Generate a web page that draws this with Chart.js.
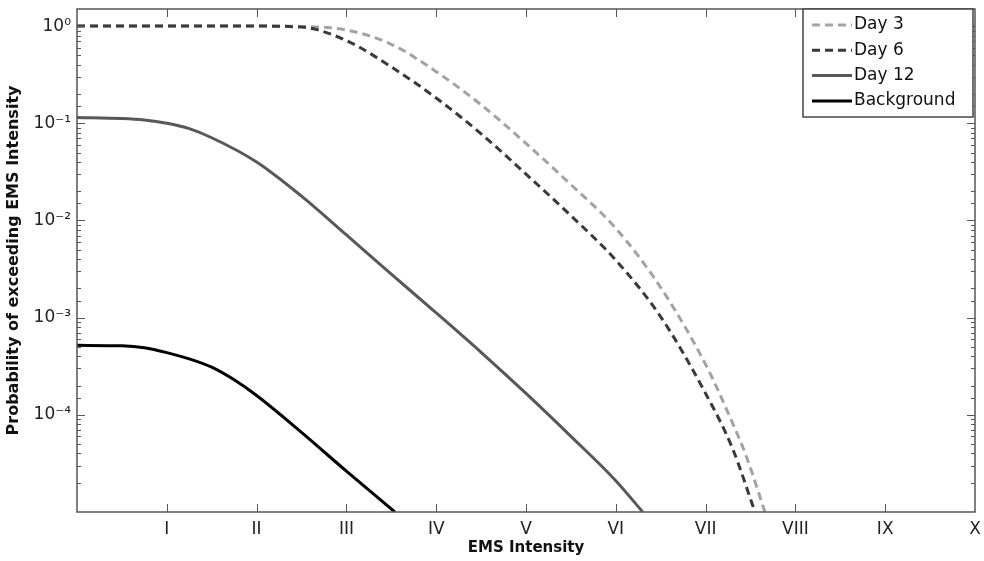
<!DOCTYPE html>
<html>
<head>
<meta charset="utf-8">
<script src="https://cdn.jsdelivr.net/npm/chart.js@4/dist/chart.umd.min.js"></script>
<style>
  html, body { margin: 0; padding: 0; background: #fff; }
  #wrap { width: 984px; height: 561px; }
</style>
</head>
<body>
<div id="wrap"><canvas id="emsChart" width="984" height="561"></canvas></div>
<script>
// EMS intensity ticks (0..10) and their roman labels
const romanLabels = ["", "I", "II", "III", "IV", "V", "VI", "VII", "VIII", "IX", "X"];

// probability of exceeding each intensity
const day3X = [0, 0.5, 1, 1.5, 2, 2.5, 3, 3.5, 4, 4.5, 5, 5.5, 6, 6.5, 7, 7.25, 7.46, 7.66];
const day3Y = [1, 1, 1, 1, 1, 0.993, 0.91, 0.65, 0.34, 0.155, 0.062, 0.0234, 0.0083, 0.00204, 3.3e-4, 1.05e-4, 3.6e-5, 1e-5];

const day6X = [0, 0.5, 1, 1.5, 2, 2.5, 3, 3.5, 4, 4.5, 5, 5.5, 6, 6.5, 7, 7.3, 7.55];
const day6Y = [1, 1, 1, 1, 1, 0.977, 0.71, 0.38, 0.182, 0.078, 0.030, 0.0112, 0.0039, 0.00102, 1.66e-4, 4.5e-5, 1e-5];

const day12X = [0, 0.5, 0.75, 1, 1.25, 1.5, 2, 2.5, 3, 3.5, 4, 4.5, 5, 5.5, 6, 6.3];
const day12Y = [0.115, 0.112, 0.108, 0.100, 0.088, 0.071, 0.040, 0.0178, 0.0071, 0.0028, 0.00112, 4.4e-4, 1.66e-4, 6.0e-5, 2.1e-5, 1e-5];

const bgX = [0, 0.5, 0.75, 1, 1.25, 1.5, 1.75, 2, 2.5, 3, 3.54];
const bgY = [5.19e-4, 5.13e-4, 4.9e-4, 4.37e-4, 3.76e-4, 3.09e-4, 2.29e-4, 1.58e-4, 6.6e-5, 2.63e-5, 1e-5];

const seriesNames = ["Day 3", "Day 6", "Day 12", "Background"];

function pts(xs, ys) {
  return xs.map((x, i) => ({ x: x, y: ys[i] }));
}

const supers = { "0": "\u2070", "1": "\u00b9", "2": "\u00b2", "3": "\u00b3", "4": "\u2074", "-": "\u207b" };
function isPow10(v) {
  const l = Math.log10(v);
  return Math.abs(l - Math.round(l)) < 1e-9;
}

const FONT = "'DejaVu Sans', 'Liberation Sans', sans-serif";

// box, inward ticks and legend like the matlab figure
const matlabFrame = {
  id: "matlabFrame",
  afterDraw(chart) {
    const ctx = chart.ctx;
    const a = chart.chartArea;
    const xs = chart.scales.x, ys = chart.scales.y;
    ctx.save();
    ctx.strokeStyle = "#555";
    ctx.lineWidth = 1.5;
    ctx.strokeRect(a.left, a.top, a.right - a.left, a.bottom - a.top);

    ctx.lineWidth = 1;
    ctx.beginPath();
    for (let v = 1; v < 10; v++) {
      const px = Math.round(xs.getPixelForValue(v)) + 0.5;
      ctx.moveTo(px, a.bottom); ctx.lineTo(px, a.bottom - 8);
      ctx.moveTo(px, a.top); ctx.lineTo(px, a.top + 8);
    }
    ys.ticks.forEach(t => {
      if (t.value <= ys.min || t.value >= ys.max) return;
      const py = Math.round(ys.getPixelForValue(t.value)) + 0.5;
      const len = isPow10(t.value) ? 8 : 4;
      ctx.moveTo(a.left, py); ctx.lineTo(a.left + len, py);
      ctx.moveTo(a.right, py); ctx.lineTo(a.right - len, py);
    });
    ctx.stroke();

    // legend box
    const bw = 170, bh = 108;
    const bx = a.right - bw - 2, by = a.top;
    ctx.fillStyle = "#fff";
    ctx.fillRect(bx, by, bw, bh);
    ctx.strokeStyle = "#444";
    ctx.lineWidth = 1.5;
    ctx.strokeRect(bx, by, bw, bh);
    ctx.font = "17px " + FONT;
    ctx.textBaseline = "middle";
    chart.data.datasets.forEach((ds, i) => {
      const cy = by + 16 + i * 25.3;
      ctx.beginPath();
      ctx.strokeStyle = ds.borderColor;
      ctx.lineWidth = ds.borderWidth;
      ctx.setLineDash(ds.borderDash || []);
      ctx.moveTo(bx + 9, cy);
      ctx.lineTo(bx + 49, cy);
      ctx.stroke();
      ctx.setLineDash([]);
      ctx.fillStyle = "#111";
      ctx.fillText(ds.label, bx + 51, cy);
    });
    ctx.restore();
  }
};

const ctx = document.getElementById("emsChart").getContext("2d");

new Chart(ctx, {
  type: "line",
  data: {
    datasets: [
      { label: seriesNames[0], data: pts(day3X, day3Y), borderColor: "#a3a3a3", borderDash: [8, 5], borderWidth: 3, order: 1 },
      { label: seriesNames[1], data: pts(day6X, day6Y), borderColor: "#3a3a3a", borderDash: [8, 5], borderWidth: 3 },
      { label: seriesNames[2], data: pts(day12X, day12Y), borderColor: "#585858", borderWidth: 3 },
      { label: seriesNames[3], data: pts(bgX, bgY), borderColor: "#000000", borderWidth: 3 }
    ]
  },
  options: {
    responsive: false,
    animation: false,
    elements: {
      point: { radius: 0 },
      line: { cubicInterpolationMode: "monotone", fill: false }
    },
    layout: { padding: { left: 4, top: 9, right: 9, bottom: 4 } },
    plugins: {
      legend: { display: false },
      tooltip: { enabled: false }
    },
    scales: {
      x: {
        type: "linear",
        min: 0,
        max: 10,
        grid: { display: false, drawTicks: false },
        border: { display: false },
        ticks: {
          stepSize: 1,
          padding: 7,
          color: "#222",
          font: { family: FONT, size: 17 },
          callback: v => romanLabels[v] || ""
        },
        title: {
          display: true,
          text: "EMS Intensity",
          color: "#111",
          font: { family: FONT, size: 15, weight: "bold" },
          padding: { top: 0, bottom: 0 }
        },
        afterFit: s => { s.height = 45; s.paddingLeft = 0; s.paddingRight = 0; }
      },
      y: {
        type: "logarithmic",
        min: 1e-5,
        max: 1.5,
        grid: { display: false, drawTicks: false },
        border: { display: false },
        ticks: {
          padding: 6,
          autoSkip: false,
          color: "#222",
          font: { family: FONT, size: 17 },
          callback: function (v) {
            if (!isPow10(v)) return "";
            const e = Math.round(Math.log10(v));
            if (e < -4 || e > 0) return "";
            return "10" + String(e).split("").map(c => supers[c]).join("");
          }
        },
        title: {
          display: true,
          text: "Probability of exceeding EMS Intensity",
          color: "#111",
          font: { family: FONT, size: 16, weight: "bold" },
          padding: { top: 0, bottom: 4 }
        },
        afterFit: s => { s.width = 73; s.paddingTop = 0; s.paddingBottom = 0; }
      }
    }
  },
  plugins: [matlabFrame]
});
</script>
</body>
</html>
